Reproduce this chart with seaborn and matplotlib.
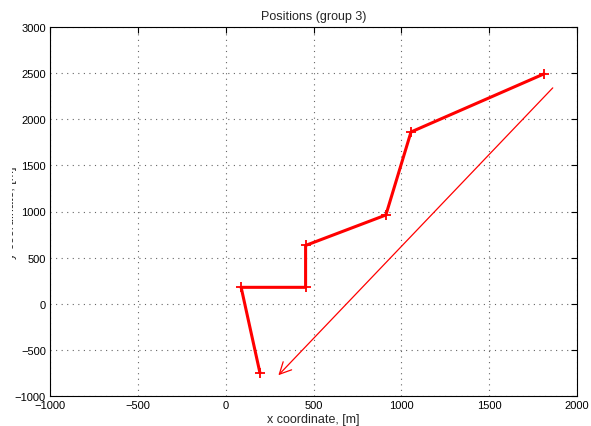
import matplotlib
matplotlib.use("Agg")
import matplotlib.pyplot as plt
from matplotlib.transforms import Bbox, TransformedBbox
import seaborn as sns
import pandas as pd

# Data
path_x = [1810, 1055, 912, 455, 455, 88, 195]
path_y = [2490, 1862, 962, 632, 178, 178, -748]
arrow_start = (1862, 2340)
arrow_end = (300, -775)
x_ticks = [-1000, -500, 0, 500, 1000, 1500, 2000]
y_ticks = [-1000, -500, 0, 500, 1000, 1500, 2000, 2500, 3000]
title = "Positions (group 3)"
xlabel = "x coordinate, [m]"
ylabel = "y coordinate, [m]"

sns.set_style("white")
plt.rcParams['font.family'] = ['Liberation Sans', 'DejaVu Sans']

fig = plt.figure(figsize=(5.91, 4.27), dpi=100)
ax = fig.add_axes([50/591, 30/427, 527/591, 369/427])

df = pd.DataFrame({"x": path_x, "y": path_y})
sns.lineplot(data=df, x="x", y="y", sort=False, estimator=None, ax=ax,
             color="red", linewidth=2.2, marker="+", markersize=6.5,
             markeredgewidth=1.3, markeredgecolor="red")

ax.annotate("", xy=arrow_end, xytext=arrow_start,
            arrowprops=dict(arrowstyle="->,head_length=0.6,head_width=0.3",
                            color="red", lw=0.9,
                            mutation_scale=14, shrinkA=0, shrinkB=0))

ax.set_xlim(-1000, 2000)
ax.set_ylim(-1000, 3000)
ax.set_xticks(x_ticks)
ax.set_yticks(y_ticks)
ax.set_xticklabels([str(v).replace("-", "\u2212") for v in x_ticks])
ax.set_yticklabels([str(v).replace("-", "\u2212") for v in y_ticks])
ax.grid(True, linestyle=(0, (1, 4)), color="#666666", linewidth=0.8)
ax.tick_params(direction="in", length=4, width=0.8, labelsize=8,
               top=True, right=True, colors="black", pad=3)
for s in ax.spines.values():
    s.set_color("black")
    s.set_linewidth(0.8)

ax.set_title(title, fontsize=9, pad=6)
ax.set_xlabel(xlabel, fontsize=9, labelpad=2)
lab = ax.set_ylabel(ylabel, fontsize=9)
ax.yaxis.set_label_coords(-0.0626, 0.5)
lab.set_clip_box(TransformedBbox(Bbox([[12/591, 0], [1, 1]]), fig.transFigure))
lab.set_clip_on(True)

fig.savefig("out.png", dpi=100)
